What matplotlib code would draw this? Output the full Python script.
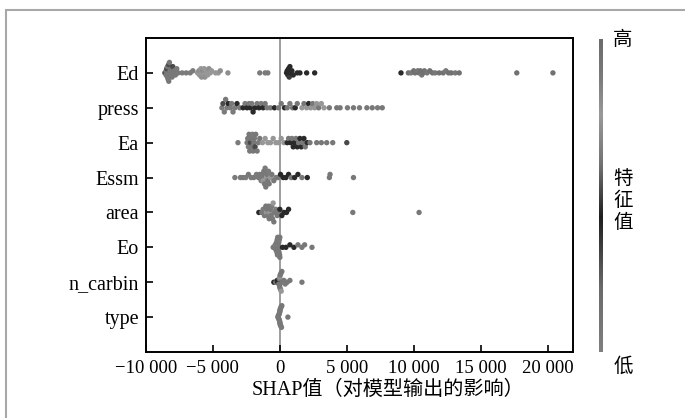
import numpy as np
import matplotlib.pyplot as plt
from matplotlib.colors import LinearSegmentedColormap
from matplotlib.patches import Rectangle
from matplotlib.ticker import FuncFormatter

plt.rcParams['font.family'] = ['Liberation Serif', 'Noto Sans CJK SC']

features = ['Ed', 'press', 'Ea', 'Essm', 'area', 'Eo', 'n_carbin', 'type']
xticks = [-10000, -5000, 0, 5000, 10000, 15000, 20000]

# SHAP values and (normalised) feature values, one pair of lists per feature
ed_shap = [-8600, -8550, -8500, -8500, -8450, -8400, -8400, -8350, -8300, -8300, -8250,
           -8200, -8200, -8150, -8100, -8050, -8000, -7950, -7900, -7800, -7700, -7600,
           -7300, -7000, -6700, -6500,
           -6150, -6050, -6000, -5900, -5850, -5800, -5750, -5700, -5650, -5600, -5550,
           -5500, -5400, -5300, -5200, -5100, -4800, -4600, -4450, -3880,
           -1500, -1100, -900,
           500, 550, 600, 650, 700, 750, 800, 900, 1000, 1300, 1500, 2000, 2600, 9050,
           9600, 9800, 10000, 10100, 10300, 10400, 10500, 10600, 10700, 10800, 11000,
           11200, 11400, 11600, 11900, 12200, 12400, 12600, 12800, 13100, 13400,
           17700, 20400]
ed_feat = [0.9, 0.3, 0.9, 0.9, 0.3, 0.9, 0.9, 0.9, 0.3, 0.9, 0.9,
           0.9, 0.05, 0.9, 0.9, 0.9, 0.3, 0.9, 0.9, 0.9, 0.05, 0.9,
           0.05, 0.05, 0.05, 0.05,
           0.75, 0.8, 0.75, 0.75, 0.8, 0.75, 0.7, 0.75, 0.75, 0.8, 0.75,
           0.75, 0.75, 0.8, 0.75, 0.75, 0.75, 0.75, 0.8, 0.8,
           0.05, 0.05, 0.05,
           0.45, 0.4, 0.45, 0.45, 0.35, 0.45, 0.45, 0.4, 0.45, 0.45, 0.45, 0.45, 0.45, 0.45,
           0.95, 0.9, 0.95, 0.95, 0.9, 0.95, 0.95, 0.9, 0.95, 0.95, 0.9,
           0.95, 0.95, 0.9, 0.95, 0.95, 0.9, 0.95, 0.95, 0.9, 0.95,
           0.95, 0.95]

press_shap = [-4330, -4250, -4150, -4050, -3950, -3850, -3700, -3600, -3500, -3350, -3200, -3000,
              -2750, -2600, -2450, -2300, -2200, -2100, -2000, -1850, -1700, -1550, -1400,
              -1250, -1100, -950, -700, -400, -100,
              100, 350, 550, 750, 950, 1150, 1300,
              1650, 1800, 2000, 2150, 2300, 2450, 2600, 2750, 2900, 3100, 3300, 3700,
              4250, 4500, 5050, 5500, 5950, 6500, 6900, 7300, 7650]
press_feat = [0.05, 0.3, 0.05, 0.9, 0.05, 0.4, 0.05, 0.9, 0.05, 0.05, 0.4, 0.05,
              0.45, 0.05, 0.45, 0.9, 0.45, 0.05, 0.45, 0.45, 0.9, 0.45, 0.05,
              0.45, 0.9, 0.05, 0.05, 0.45, 0.05,
              0.9, 0.45, 0.9, 0.05, 0.9, 0.45, 0.9,
              0.75, 0.9, 0.75, 0.45, 0.75, 0.9, 0.75, 0.75, 0.9, 0.75, 0.75, 0.9,
              0.9, 0.9, 0.05, 0.9, 0.05, 0.9, 0.9, 0.05, 0.9]

ea_shap = [-3130,
           -2450, -2400, -2350, -2300, -2250, -2200, -2150, -2100, -2050, -2000, -1950,
           -1900, -1850, -1800, -1700, -1600, -1500,
           -1300, -1100, -900, -700, -500, -300, -100, 100, 300,
           550, 650, 800, 900, 1000, 1100, 1200, 1300, 1400, 1500, 1600, 1700, 1800,
           1900, 2050, 2250,
           2750, 3100, 3500, 3950, 5000]
ea_feat = [0.05,
           0.9, 0.9, 0.05, 0.9, 0.9, 0.3, 0.9, 0.9, 0.05, 0.9, 0.9,
           0.9, 0.3, 0.9, 0.9, 0.05, 0.9,
           0.75, 0.75, 0.75, 0.75, 0.75, 0.75, 0.75, 0.75, 0.75,
           0.45, 0.9, 0.45, 0.9, 0.45, 0.45, 0.9, 0.45, 0.9, 0.45, 0.45, 0.9, 0.45,
           0.9, 0.45, 0.9,
           0.9, 0.9, 0.9, 0.9, 0.3]

essm_shap = [-3360, -2950, -2750, -2550, -2350, -2150, -1950, -1750,
             -1600, -1500, -1400, -1350, -1300, -1250, -1200, -1150, -1100, -1050,
             -1000, -950, -900, -850, -800, -700, -600, -450, -300, -150,
             50, 250, 450, 650, 850, 1100, 1350, 1650, 2050,
             3700, 3750, 5500]
essm_feat = [0.05, 0.05, 0.9, 0.05, 0.9, 0.05, 0.9, 0.05,
             0.9, 0.9, 0.05, 0.9, 0.9, 0.75, 0.9, 0.9, 0.05, 0.9,
             0.75, 0.9, 0.9, 0.05, 0.9, 0.75, 0.9, 0.9, 0.05, 0.9,
             0.45, 0.45, 0.45, 0.45, 0.9, 0.45, 0.45, 0.9, 0.45,
             0.9, 0.9, 0.9]

area_shap = [-1570, -1350, -1250, -1150, -1050, -1000, -950, -900, -850, -800, -750,
             -700, -650, -600, -550, -500, -450, -400, -300, -200, -100, 0,
             150, 300, 500, 650, 5450, 10400]
area_feat = [0.45, 0.9, 0.05, 0.9, 0.9, 0.75, 0.9, 0.05, 0.9, 0.9, 0.75,
             0.9, 0.9, 0.05, 0.9, 0.75, 0.9, 0.9, 0.05, 0.9, 0.9, 0.45,
             0.45, 0.45, 0.4, 0.45, 0.9, 0.9]

eo_shap = [-500, -400, -350, -300, -250, -220, -200, -180, -160, -140, -120, -100,
           -80, -60, -40, -20, 0, 0,
           200, 450, 750, 1050, 1350, 1650, 1850, 2400]
eo_feat = [0.9, 0.9, 0.05, 0.9, 0.9, 0.9, 0.05, 0.9, 0.9, 0.9, 0.05, 0.9,
           0.9, 0.9, 0.05, 0.9, 0.9, 0.9,
           0.45, 0.45, 0.45, 0.45, 0.9, 0.9, 0.9, 0.9]

ncarb_shap = [-450, -300, -200, -150, -100, -80, -50, -20, 0, 0, 20, 50, 80, 100,
              150, 200, 300, 400, 550, 750, 1650]
ncarb_feat = [0.45, 0.9, 0.45, 0.45, 0.45, 0.9, 0.05, 0.9, 0.75, 0.9, 0.9, 0.05, 0.9, 0.75,
              0.9, 0.9, 0.9, 0.05, 0.9, 0.9, 0.9]

type_shap = [-150, -120, -100, -80, -60, -40, -30, -20, -10, 0, 0, 10, 20, 30, 40, 60,
             80, 100, 120, 150, 600]
type_feat = [0.9, 0.9, 0.05, 0.9, 0.9, 0.9, 0.05, 0.9, 0.9, 0.9, 0.05, 0.9, 0.9, 0.9,
             0.05, 0.9, 0.9, 0.9, 0.05, 0.9, 0.9]

shap_rows = [ed_shap, press_shap, ea_shap, essm_shap, area_shap, eo_shap, ncarb_shap, type_shap]
feat_rows = [ed_feat, press_feat, ea_feat, essm_feat, area_feat, eo_feat, ncarb_feat, type_feat]

# grey version of the red-blue feature colormap
cmap = LinearSegmentedColormap.from_list('grey_rb', [
    (0.0, (0.50, 0.50, 0.50)),
    (0.2, (0.42, 0.42, 0.42)),
    (0.43, (0.12, 0.12, 0.12)),
    (0.6, (0.45, 0.45, 0.45)),
    (0.76, (0.60, 0.60, 0.60)),
    (0.88, (0.48, 0.48, 0.48)),
    (1.0, (0.42, 0.42, 0.42)),
])


def swarm(vals, bin_w=300, row_h=0.4):
    vals = np.asarray(vals, float)
    q = np.round(vals / bin_w)
    order = np.argsort(q, kind='stable')
    ys = np.zeros(len(vals))
    layer = 0
    last = None
    for i in order:
        if q[i] != last:
            layer = 0
        ys[i] = np.ceil(layer / 2) * ((layer % 2) * 2 - 1)
        layer += 1
        last = q[i]
    ys *= 0.9 * (row_h / np.max(ys + 1))
    return ys


W, H = 685, 418
fig = plt.figure(figsize=(6.85, 4.18), dpi=100)
ax = fig.add_axes([146 / W, 66 / H, 427 / W, 314 / H])

ax.axvline(0, color='#8c8c8c', lw=1.2, zorder=0)
n = len(features)
for i, (sv, fv) in enumerate(zip(shap_rows, feat_rows)):
    pos = n - 1 - i
    ax.scatter(sv, pos + swarm(sv), c=fv, cmap=cmap, vmin=0, vmax=1,
               s=15, linewidths=0, zorder=3)

ax.set_ylim(-1, n)
ax.set_yticks(range(n))
ax.set_yticklabels(features[::-1])
ax.set_xlim(-10000, 21900)
ax.set_xticks(xticks)
ax.xaxis.set_major_formatter(FuncFormatter(
    lambda v, p: ('\u2212' if v < 0 else '') + f'{abs(int(v)):,}'.replace(',', ' ')))
ax.tick_params(direction='in', length=5, width=1.2, labelsize=14.5, pad=5)
ax.tick_params(axis='x', labelsize=13.5, pad=6)
for sp in ax.spines.values():
    sp.set_linewidth(1.4)
ax.set_xlabel('SHAP值（对模型输出的影响）', fontsize=14.5)
ax.xaxis.set_label_coords(0.567, -0.09)

# colour bar
cax = fig.add_axes([598.5 / W, 66 / H, 4 / W, 313 / H])
cax.imshow(np.linspace(0, 1, 256)[:, None], aspect='auto', cmap=cmap, origin='lower')
cax.axis('off')
fig.text(623 / W, 1 - 40 / H, '高', ha='center', va='center', fontsize=14)
fig.text(623 / W, 1 - 367 / H, '低', ha='center', va='center', fontsize=14)
fig.text(623 / W, 1 - 201 / H, '特\n征\n值', ha='center', va='center', fontsize=14,
         linespacing=1.25)

# outer frame
fig.add_artist(Rectangle((6 / W, -0.2), 1.2, 0.2 + 1 - 10 / H, transform=fig.transFigure,
                         fill=False, edgecolor='#a8a8a8', lw=1.5))

fig.savefig('out.png', dpi=100)
